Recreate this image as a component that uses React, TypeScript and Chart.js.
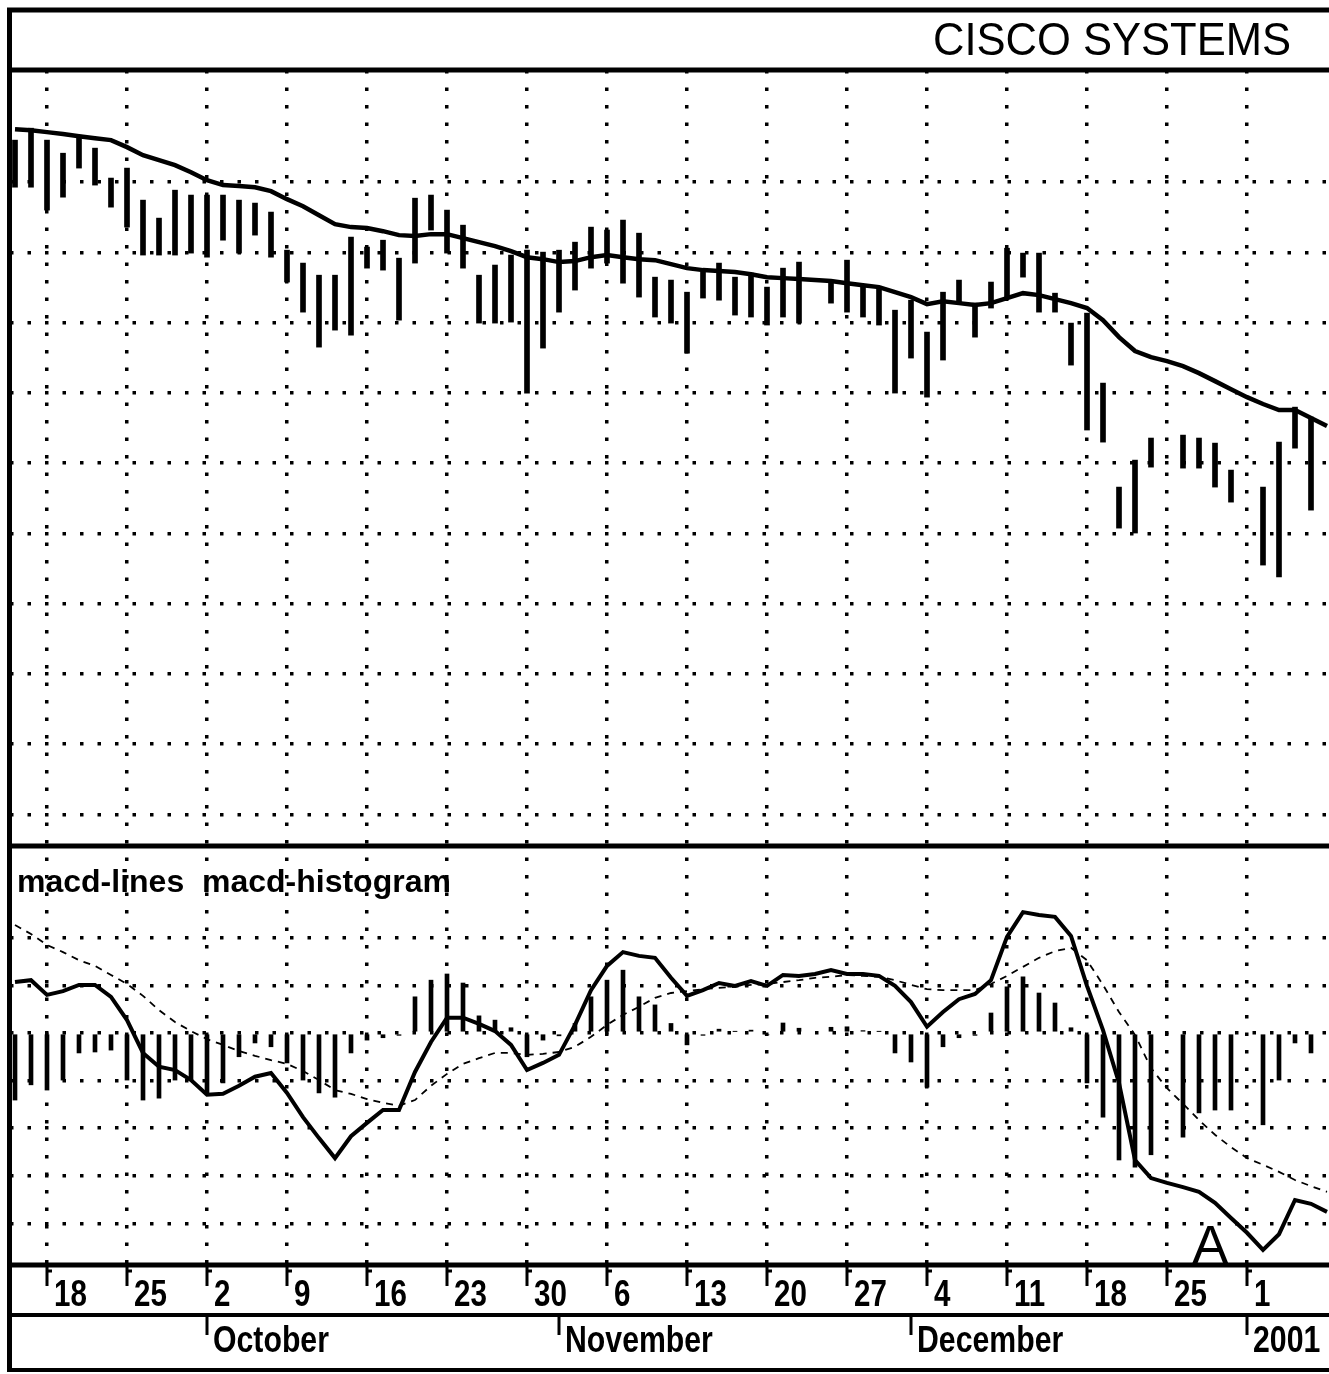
import React, { useEffect, useRef } from 'react';
import { Chart, registerables } from 'chart.js';

Chart.register(...registerables);

const W = 1329;
const H = 1374;

// Day slots: weekday index, 0 = Thu 14 Sep 2000 (holidays are empty slots)
const priceHigh: (number | null)[] = [
  67.98, 68.83, 67.98, 67.05, 68.33, 67.41, 65.28, 65.99, 63.71, 62.43,
  64.42, 64.07, 64.07, 64.07, 63.71, 63.5, 62.86, 60.15, 59.23, 58.37,
  58.37, 61.08, 60.37, 60.86, 59.58, 63.85, 64.07, 63.0, 61.93, 58.37,
  59.09, 59.8, 60.15, 60.01, 60.15, 60.72, 61.79, 61.58, 62.29, 61.36,
  58.23, 58.02, 57.16, 58.59, 59.23, 58.23, 58.52, 57.52, 58.87, 59.3,
  null, 57.88, 59.44, 57.52, 57.52, 55.88, 56.59, 54.32, 57.16, 58.02,
  56.38, 57.88, 60.29, 59.94, 59.94, 57.09, 54.96, 55.67, 50.69, 43.29,
  45.21, 46.78, null, 46.99, 46.78, 46.42, 44.5, null, 43.29, 46.49,
  48.98, 48.27, null,
];
const priceLow: (number | null)[] = [
  64.63, 64.63, 63.0, 63.92, 65.99, 64.78, 63.21, 61.79, 59.8, 59.8,
  59.8, 59.94, 59.65, 60.86, 59.94, 61.22, 59.65, 57.88, 55.74, 53.25,
  54.46, 54.1, 58.87, 58.73, 55.17, 59.23, 61.58, 59.94, 58.87, 54.96,
  54.96, 55.03, 49.98, 53.18, 55.74, 57.31, 58.87, 59.23, 57.8, 56.81,
  55.39, 54.96, 52.82, 56.74, 56.59, 55.53, 55.39, 54.82, 55.39, 54.96,
  null, 56.38, 55.74, 55.39, 54.82, 49.98, 52.47, 49.69, 52.33, 56.38,
  53.96, 56.03, 56.81, 58.23, 55.74, 55.74, 51.97, 47.35, 46.49, 40.37,
  40.02, 44.71, null, 44.64, 44.64, 43.29, 42.22, null, 37.74, 36.89,
  46.06, 41.65, null,
];
const movingAverage: number[] = [
  68.76, 68.69, 68.55, 68.41, 68.26, 68.12, 67.98, 67.48, 66.91, 66.56,
  66.2, 65.7, 65.13, 64.78, 64.71, 64.63, 64.35, 63.78, 63.28, 62.64,
  62.0, 61.79, 61.72, 61.5, 61.22, 61.15, 61.29, 61.29, 61.01, 60.72,
  60.44, 60.08, 59.65, 59.51, 59.3, 59.37, 59.65, 59.8, 59.65, 59.51,
  59.44, 59.16, 58.87, 58.73, 58.66, 58.59, 58.44, 58.23, 58.16, 58.09,
  58.02, 57.95, 57.8, 57.66, 57.52, 57.16, 56.81, 56.31, 56.52, 56.38,
  56.24, 56.38, 56.74, 57.09, 56.95, 56.67, 56.38, 56.03, 55.17, 53.96,
  52.97, 52.54, 52.25, 51.9, 51.4, 50.83, 50.26, 49.69, 49.2, 48.77,
  48.77, 48.2, 47.63,
];
const macdLine: number[] = [
  1.07, 1.11, 0.8, 0.88, 1.01, 1.01, 0.76, 0.27, -0.42, -0.71,
  -0.78, -0.99, -1.3, -1.28, -1.11, -0.92, -0.84, -1.26, -1.77, -2.21,
  -2.63, -2.17, -1.89, -1.62, -1.62, -0.82, -0.19, 0.32, 0.32, 0.19,
  0.04, -0.25, -0.78, -0.63, -0.46, 0.17, 0.9, 1.41, 1.7, 1.62,
  1.58, 1.16, 0.78, 0.9, 1.05, 0.99, 1.09, 0.99, 1.22, 1.2,
  1.24, 1.32, 1.24, 1.24, 1.2, 0.99, 0.65, 0.13, 0.44, 0.71,
  0.82, 1.11, 2.02, 2.54, 2.48, 2.44, 2.04, 0.99, 0.06, -1.05,
  -2.67, -3.05, -3.15, -3.24, -3.34, -3.57, -3.89, -4.2, -4.56, -4.23,
  -3.51, -3.59, -3.76,
];
const signalLine: number[] = [
  2.27, 2.08, 1.85, 1.7, 1.53, 1.41, 1.22, 1.03, 0.78, 0.48,
  0.23, 0.04, -0.13, -0.25, -0.38, -0.48, -0.57, -0.65, -0.8, -0.99,
  -1.2, -1.28, -1.39, -1.47, -1.53, -1.41, -1.11, -0.86, -0.65, -0.53,
  -0.42, -0.42, -0.46, -0.44, -0.4, -0.29, -0.08, 0.17, 0.38, 0.55,
  0.74, 0.84, 0.88, 0.92, 0.95, 0.97, 1.01, 1.03, 1.07, 1.11,
  1.16, 1.18, 1.22, 1.2, 1.18, 1.11, 1.01, 0.92, 0.9, 0.9,
  0.9, 1.03, 1.2, 1.39, 1.58, 1.72, 1.79, 1.53, 1.01, 0.44,
  -0.04, -0.74, -1.16, -1.49, -1.83, -2.14, -2.4, -2.63, -2.77, -2.92,
  -3.09, -3.22, -3.34,
];
const macdHistogram: (number | null)[] = [
  -1.41, -1.09, -1.2, -0.99, -0.42, -0.4, -0.36, -0.99, -1.41, -1.37,
  -0.99, -0.99, -1.3, -1.05, -0.5, -0.21, -0.29, -0.63, -0.99, -1.26,
  -1.35, -0.42, -0.15, -0.1, -0.05, 0.76, 1.11, 1.24, 1.05, 0.36,
  0.27, 0.11, -0.5, -0.15, -0.06, 0.2, 0.76, 1.11, 1.32, 0.76,
  0.59, 0.2, -0.25, -0.05, 0.08, 0.03, 0.06, -0.04, 0.21, 0.1,
  null, 0.12, 0.13, 0.05, 0.03, -0.42, -0.61, -1.14, -0.29, -0.1,
  -0.05, 0.42, 0.97, 1.18, 0.84, 0.63, 0.11, -1.05, -1.77, -2.67,
  -2.82, -2.56, null, -2.19, -1.68, -1.62, -1.62, null, -1.93, -0.99,
  -0.21, -0.42, null,
];

const weekTickIndex = [2, 7, 12, 17, 22, 27, 32, 37, 42, 47, 52, 57, 62, 67, 72, 77];
const weekTickLabels = ['18', '25', '2', '9', '16', '23', '30', '6', '13', '20', '27', '4', '11', '18', '25', '1'];
const monthTickIndex = [12, 34, 56, 77];
const monthLabels = ['October', 'November', 'December', '2001'];
const priceGridValues = [20, 25, 30, 35, 40, 45, 50, 55, 60, 65];
const macdGridValues = [-4, -3, -2, -1, 0, 1, 2];
const chartTitle = 'CISCO SYSTEMS';
const panelLabel = 'macd-lines  macd-histogram';
const annotationText = 'A';
const annotationIndex = 74.7;
const annotationValue = -4.83;

const FONT = '"Liberation Sans", Arial, Helvetica, sans-serif';

const idx = macdLine.map((_, i) => i);

const framePlugin = {
  id: 'frame',
  afterDraw(chart: any) {
    const ctx: CanvasRenderingContext2D = chart.ctx;
    const xs = chart.scales.x;
    const yp = chart.scales.yPrice;
    const ym = chart.scales.yMacd;
    const { top, bottom } = chart.chartArea;
    ctx.save();
    ctx.strokeStyle = '#000';
    ctx.fillStyle = '#000';
    ctx.setLineDash([]);
    const hline = (y: number, w: number) => {
      ctx.lineWidth = w;
      ctx.beginPath();
      ctx.moveTo(7, y);
      ctx.lineTo(W, y);
      ctx.stroke();
    };
    hline(10, 5);
    hline(top, 5);
    hline(yp.bottom, 5);
    hline(bottom, 5);
    hline(bottom + 50, 4);
    hline(bottom + 105, 4);
    ctx.lineWidth = 5;
    ctx.beginPath();
    ctx.moveTo(9.5, 8);
    ctx.lineTo(9.5, bottom + 107);
    ctx.stroke();

    // title
    ctx.font = `46px ${FONT}`;
    ctx.textAlign = 'right';
    ctx.textBaseline = 'alphabetic';
    ctx.fillText(chartTitle, 1291, 55, 358);

    // panel label
    ctx.font = `bold 32px ${FONT}`;
    ctx.textAlign = 'left';
    ctx.fillText(panelLabel, 17, yp.bottom + 46);

    // week labels
    ctx.lineWidth = 3;
    weekTickIndex.forEach((v, k) => {
      const px = xs.getPixelForValue(v);
      ctx.beginPath();
      ctx.moveTo(px, bottom + 2);
      ctx.lineTo(px, bottom + 21);
      ctx.moveTo(px - 1, bottom + 6);
      ctx.lineTo(px + 5, bottom + 6);
      ctx.stroke();
      ctx.save();
      ctx.translate(px + 7, bottom + 41);
      ctx.scale(0.82, 1);
      ctx.font = `bold 36px ${FONT}`;
      ctx.fillText(weekTickLabels[k], 0, 0);
      ctx.restore();
    });
    // month labels
    monthTickIndex.forEach((v, k) => {
      const px = xs.getPixelForValue(v);
      ctx.beginPath();
      ctx.moveTo(px, bottom + 52);
      ctx.lineTo(px, bottom + 70);
      ctx.stroke();
      ctx.save();
      ctx.translate(px + 6, bottom + 87);
      ctx.scale(0.84, 1);
      ctx.font = `bold 36px ${FONT}`;
      ctx.fillText(monthLabels[k], 0, 0);
      ctx.restore();
    });

    // annotation
    ctx.font = `54px ${FONT}`;
    ctx.textAlign = 'center';
    ctx.fillText(annotationText, xs.getPixelForValue(annotationIndex), ym.getPixelForValue(annotationValue));
    ctx.restore();
  },
};

export default function App() {
  const ref = useRef<HTMLCanvasElement | null>(null);
  useEffect(() => {
    const canvas = ref.current;
    if (!canvas) return;
    const dotted = { display: false, dash: [3.5, 14] };
    const chart = new Chart(canvas, {
      type: 'bar',
      data: {
        datasets: [
          {
            type: 'line',
            label: 'moving average',
            data: idx.map((i) => ({ x: i, y: movingAverage[i] })),
            yAxisID: 'yPrice',
            borderColor: '#000',
            borderWidth: 4.5,
            pointRadius: 0,
            tension: 0,
            order: 1,
          },
          {
            type: 'bar',
            label: 'price range',
            data: idx.filter((i) => priceHigh[i] != null).map((i) => ({ x: i, y: [priceLow[i], priceHigh[i]] })),
            yAxisID: 'yPrice',
            backgroundColor: '#000',
            borderWidth: 0,
            barThickness: 5,
            grouped: false,
            order: 2,
          },
          {
            type: 'line',
            label: 'macd-lines',
            data: idx.map((i) => ({ x: i, y: macdLine[i] })),
            yAxisID: 'yMacd',
            borderColor: '#000',
            borderWidth: 4,
            pointRadius: 0,
            tension: 0,
            order: 1,
          },
          {
            type: 'line',
            label: 'signal',
            data: idx.map((i) => ({ x: i, y: signalLine[i] })),
            yAxisID: 'yMacd',
            borderColor: '#000',
            borderWidth: 1.8,
            borderDash: [7, 6],
            pointRadius: 0,
            tension: 0,
            order: 1,
          },
          {
            type: 'bar',
            label: 'macd-histogram',
            data: idx.filter((i) => macdHistogram[i] != null).map((i) => ({ x: i, y: macdHistogram[i] })),
            yAxisID: 'yMacd',
            backgroundColor: '#000',
            borderWidth: 0,
            barThickness: 4,
            grouped: false,
            order: 2,
          },
        ],
      } as any,
      options: {
        responsive: false,
        animation: false,
        devicePixelRatio: 1,
        events: [],
        layout: { padding: { left: 10, top: 70, right: 0, bottom: H - 1265 } },
        plugins: { legend: { display: false }, tooltip: { enabled: false }, title: { display: false } },
        scales: {
          x: {
            type: 'linear',
            min: -0.3125,
            max: 82.125,
            offset: false,
            grid: { color: '#000', lineWidth: 3.5, drawTicks: false, offset: false },
            border: dotted,
            ticks: { display: false },
            afterBuildTicks: (s: any) => {
              s.ticks = weekTickIndex.map((v) => ({ value: v }));
            },
          },
          yPrice: {
            type: 'linear',
            position: 'left',
            stack: 'panels',
            stackWeight: 776,
            weight: 1,
            min: 17.75,
            max: 72.97,
            grid: { color: '#000', lineWidth: 3.5, drawTicks: false },
            border: dotted,
            ticks: { display: false },
            afterBuildTicks: (s: any) => {
              s.ticks = priceGridValues.map((v) => ({ value: v }));
            },
          },
          yMacd: {
            type: 'linear',
            position: 'left',
            stack: 'panels',
            stackWeight: 419,
            weight: 0,
            min: -4.877,
            max: 3.93,
            grid: { color: '#000', lineWidth: 3.5, drawTicks: false },
            border: dotted,
            ticks: { display: false },
            afterBuildTicks: (s: any) => {
              s.ticks = macdGridValues.map((v) => ({ value: v }));
            },
          },
        },
      } as any,
      plugins: [framePlugin],
    });
    return () => chart.destroy();
  }, []);
  return (
    <div style={{ position: 'absolute', left: 0, top: 0, width: W, height: H, background: '#fff' }}>
      <canvas ref={ref} width={W} height={H} style={{ display: 'block', width: W, height: H }} />
    </div>
  );
}
